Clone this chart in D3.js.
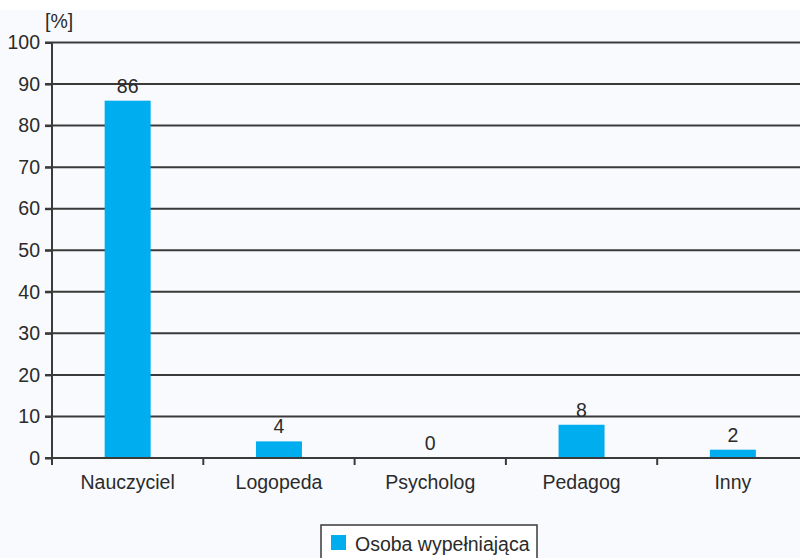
<!DOCTYPE html>
<html>
<head>
<meta charset="UTF-8">
<script src="https://cdn.jsdelivr.net/npm/d3@7/dist/d3.min.js"></script>
<style>
  body{margin:0;background:#fff;}
  text{font-family:"Liberation Sans",Arial,sans-serif;fill:#2b2b2b;}
</style>
</head>
<body>
<script>
var categories=["Nauczyciel","Logopeda","Psycholog","Pedagog","Inny"];
var values=[86,4,0,8,2];
var yTicks=[0,10,20,30,40,50,60,70,80,90,100];
var seriesName="Osoba wypełniająca";

var W=800,H=558,FS=19.5;
var FONT='"Liberation Sans",Arial,sans-serif';
var svg=d3.select('body').append('svg').attr('width',W).attr('height',H);
svg.append('rect').attr('x',0).attr('y',10).attr('width',W).attr('height',H-10).attr('fill','#f9fafd');

var x=d3.scaleBand().domain(categories).range([52,808.5]).paddingInner(0.696).paddingOuter(0.348);
var y=d3.scaleLinear().domain([0,100]).range([458,42.5]);

// gridlines
svg.append('g').selectAll('line').data(yTicks.filter(function(d){return d>0;})).enter()
  .append('line')
  .attr('x1',45).attr('x2',W)
  .attr('y1',function(d){return y(d);}).attr('y2',function(d){return y(d);})
  .attr('stroke','#3a3a3a').attr('stroke-width',2);

// bars
svg.append('g').selectAll('rect').data(values).enter()
  .append('rect')
  .attr('x',function(d,i){return x(categories[i]);})
  .attr('width',x.bandwidth())
  .attr('y',function(d){return y(d);})
  .attr('height',function(d){return y(0)-y(d);})
  .attr('fill','#00adee');

// value labels
svg.append('g').selectAll('text').data(values).enter()
  .append('text')
  .attr('x',function(d,i){return x(categories[i])+x.bandwidth()/2;})
  .attr('y',function(d){return y(d)-8;})
  .attr('text-anchor','middle')
  .attr('font-size',FS)
  .text(function(d){return d;});

// y axis
var yAxis=d3.axisLeft(y).tickValues(yTicks).tickSize(7).tickPadding(5);
var gy=svg.append('g').attr('transform','translate(52,0)').call(yAxis);
gy.select('.domain').attr('stroke','#3a3a3a').attr('stroke-width',2).attr('d','M0,42.5V465');
gy.selectAll('.tick line').attr('stroke','#3a3a3a').attr('stroke-width',2);
gy.selectAll('.tick text').attr('font-size',FS).attr('font-family',FONT).attr('fill','#2b2b2b');

// x axis baseline
svg.append('line').attr('x1',45).attr('x2',W).attr('y1',y(0)).attr('y2',y(0))
  .attr('stroke','#3a3a3a').attr('stroke-width',2);
// x category boundary ticks
var bounds=categories.slice(1).map(function(c){return x(c)-x.step()*x.paddingOuter();});
svg.append('g').selectAll('line').data(bounds).enter()
  .append('line')
  .attr('x1',function(d){return d;}).attr('x2',function(d){return d;})
  .attr('y1',y(0)).attr('y2',y(0)+7)
  .attr('stroke','#3a3a3a').attr('stroke-width',2);
// x labels
svg.append('g').selectAll('text').data(categories).enter()
  .append('text')
  .attr('x',function(d){return x(d)+x.bandwidth()/2;})
  .attr('y',489)
  .attr('text-anchor','middle')
  .attr('font-size',FS)
  .text(function(d){return d;});

// unit label
svg.append('text').attr('x',45).attr('y',28).attr('font-size',FS).text('[%]');

// legend
svg.append('rect').attr('x',321).attr('y',525).attr('width',216).attr('height',40)
  .attr('fill','#fff').attr('stroke','#3a3a3a').attr('stroke-width',1.5);
svg.append('rect').attr('x',331).attr('y',535).attr('width',15).attr('height',15).attr('fill','#00adee');
svg.append('text').attr('x',355).attr('y',551).attr('font-size',FS).text(seriesName);
</script>
</body>
</html>
